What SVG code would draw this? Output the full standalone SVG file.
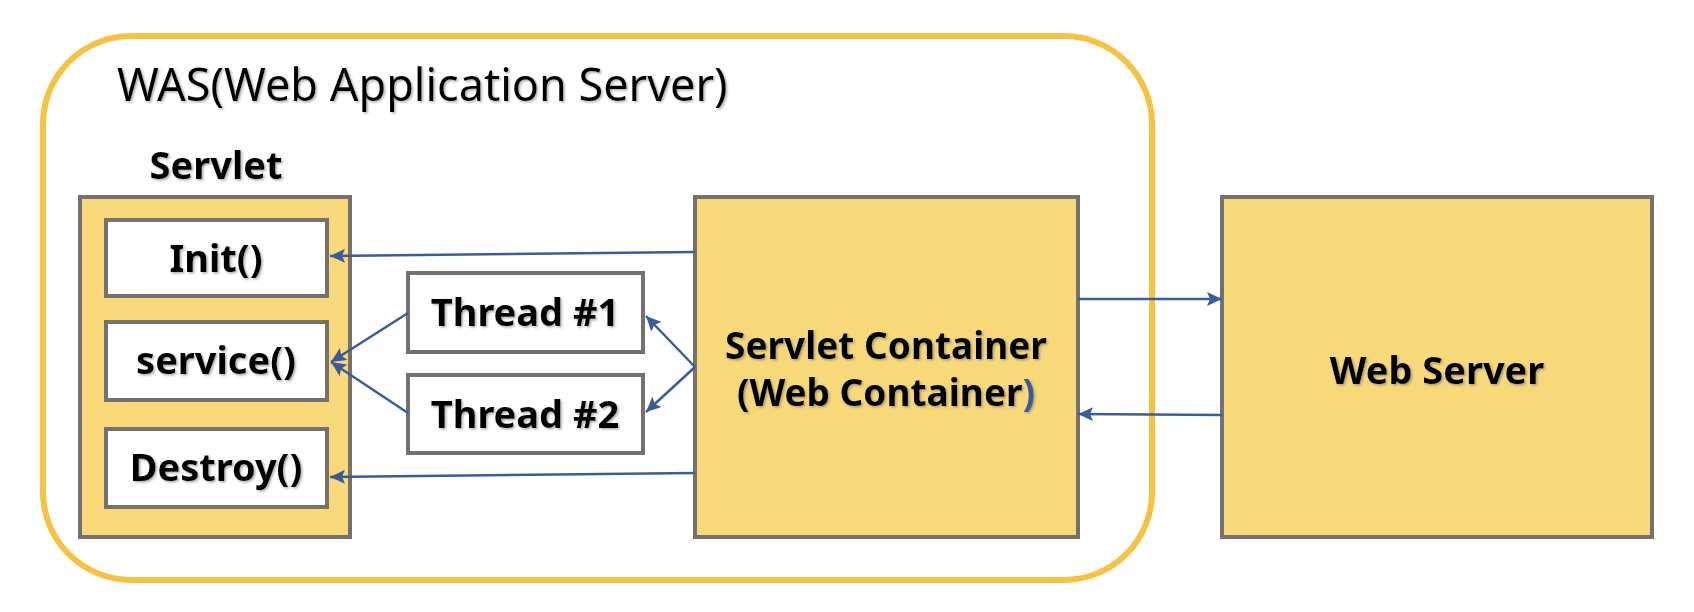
<svg xmlns="http://www.w3.org/2000/svg" width="1694" height="612" viewBox="0 0 1694 612">
<style>
.box{fill:#F8D979;stroke:#767171;stroke-width:4}
.inner{fill:#FFFFFF;stroke:#767171;stroke-width:4}
.lbl{font-family:"Noto Sans","Open Sans",sans-serif;font-weight:bold;font-size:38px;fill:#000;text-anchor:middle}
.title{font-family:"Noto Sans","Open Sans",sans-serif;font-size:45px;fill:#000}
.conn{stroke:#3B5B9B;stroke-width:2.5;fill:none;marker-end:url(#ah)}
</style>
<defs>
<marker id="ah" markerUnits="userSpaceOnUse" markerWidth="16" markerHeight="14" refX="15" refY="7" orient="auto">
<path d="M0,0 L15,7 L0,14 L3,7 z" fill="#3B5B9B"/>
</marker>
<filter id="sh" x="-5%" y="-20%" width="110%" height="140%">
<feDropShadow dx="1.5" dy="1.5" stdDeviation="0.8" flood-color="#777" flood-opacity="0.6"/>
</filter>
</defs>
<rect width="1694" height="612" fill="#FFFFFF"/>
<g id="was">
<rect x="43" y="36" width="1109" height="544" rx="88" ry="88" fill="none" stroke="#F5C242" stroke-width="6"/>
<text class="title" x="117" y="101" filter="url(#sh)">WAS(Web Application Server)</text>
</g>
<g id="servlet">
<text class="lbl" x="216" y="179" filter="url(#sh)">Servlet</text>
<rect class="box" x="80" y="197" width="270" height="340"/>
</g>
<g id="init">
<rect class="inner" x="106" y="220" width="221" height="76"/>
<text class="lbl" x="216" y="272" filter="url(#sh)">Init()</text>
</g>
<g id="service">
<rect class="inner" x="106" y="322" width="221" height="78"/>
<text class="lbl" x="216" y="374" filter="url(#sh)">service()</text>
</g>
<g id="destroy">
<rect class="inner" x="106" y="429" width="221" height="78"/>
<text class="lbl" x="216" y="481" filter="url(#sh)">Destroy()</text>
</g>
<g id="thread1">
<rect class="inner" x="408" y="273" width="235" height="79"/>
<text class="lbl" x="525" y="326" filter="url(#sh)">Thread #1</text>
</g>
<g id="thread2">
<rect class="inner" x="408" y="375" width="235" height="78"/>
<text class="lbl" x="525" y="428" filter="url(#sh)">Thread #2</text>
</g>
<g id="container">
<rect class="box" x="695" y="197" width="383" height="340"/>
<text class="lbl" x="886" y="359" style="font-size:37px" filter="url(#sh)">Servlet Container</text>
<text class="lbl" x="886" y="406" style="font-size:37px" filter="url(#sh)">(Web Container<tspan fill="#3B5B9B">)</tspan></text>
</g>
<g id="webserver">
<rect class="box" x="1222" y="197" width="430" height="340"/>
<text class="lbl" x="1437" y="384" filter="url(#sh)">Web Server</text>
</g>
<g id="connectors">
<path class="conn" d="M695,252 L330,256"/>
<path class="conn" d="M695,473 L330,477"/>
<path class="conn" d="M695,367 L646,316"/>
<path class="conn" d="M695,367 L646,412"/>
<path class="conn" d="M408,313 L331,362"/>
<path class="conn" d="M408,413 L331,362"/>
<path class="conn" d="M1078,299 L1222,299"/>
<path class="conn" d="M1222,415 L1078,414"/>
</g>
</svg>
